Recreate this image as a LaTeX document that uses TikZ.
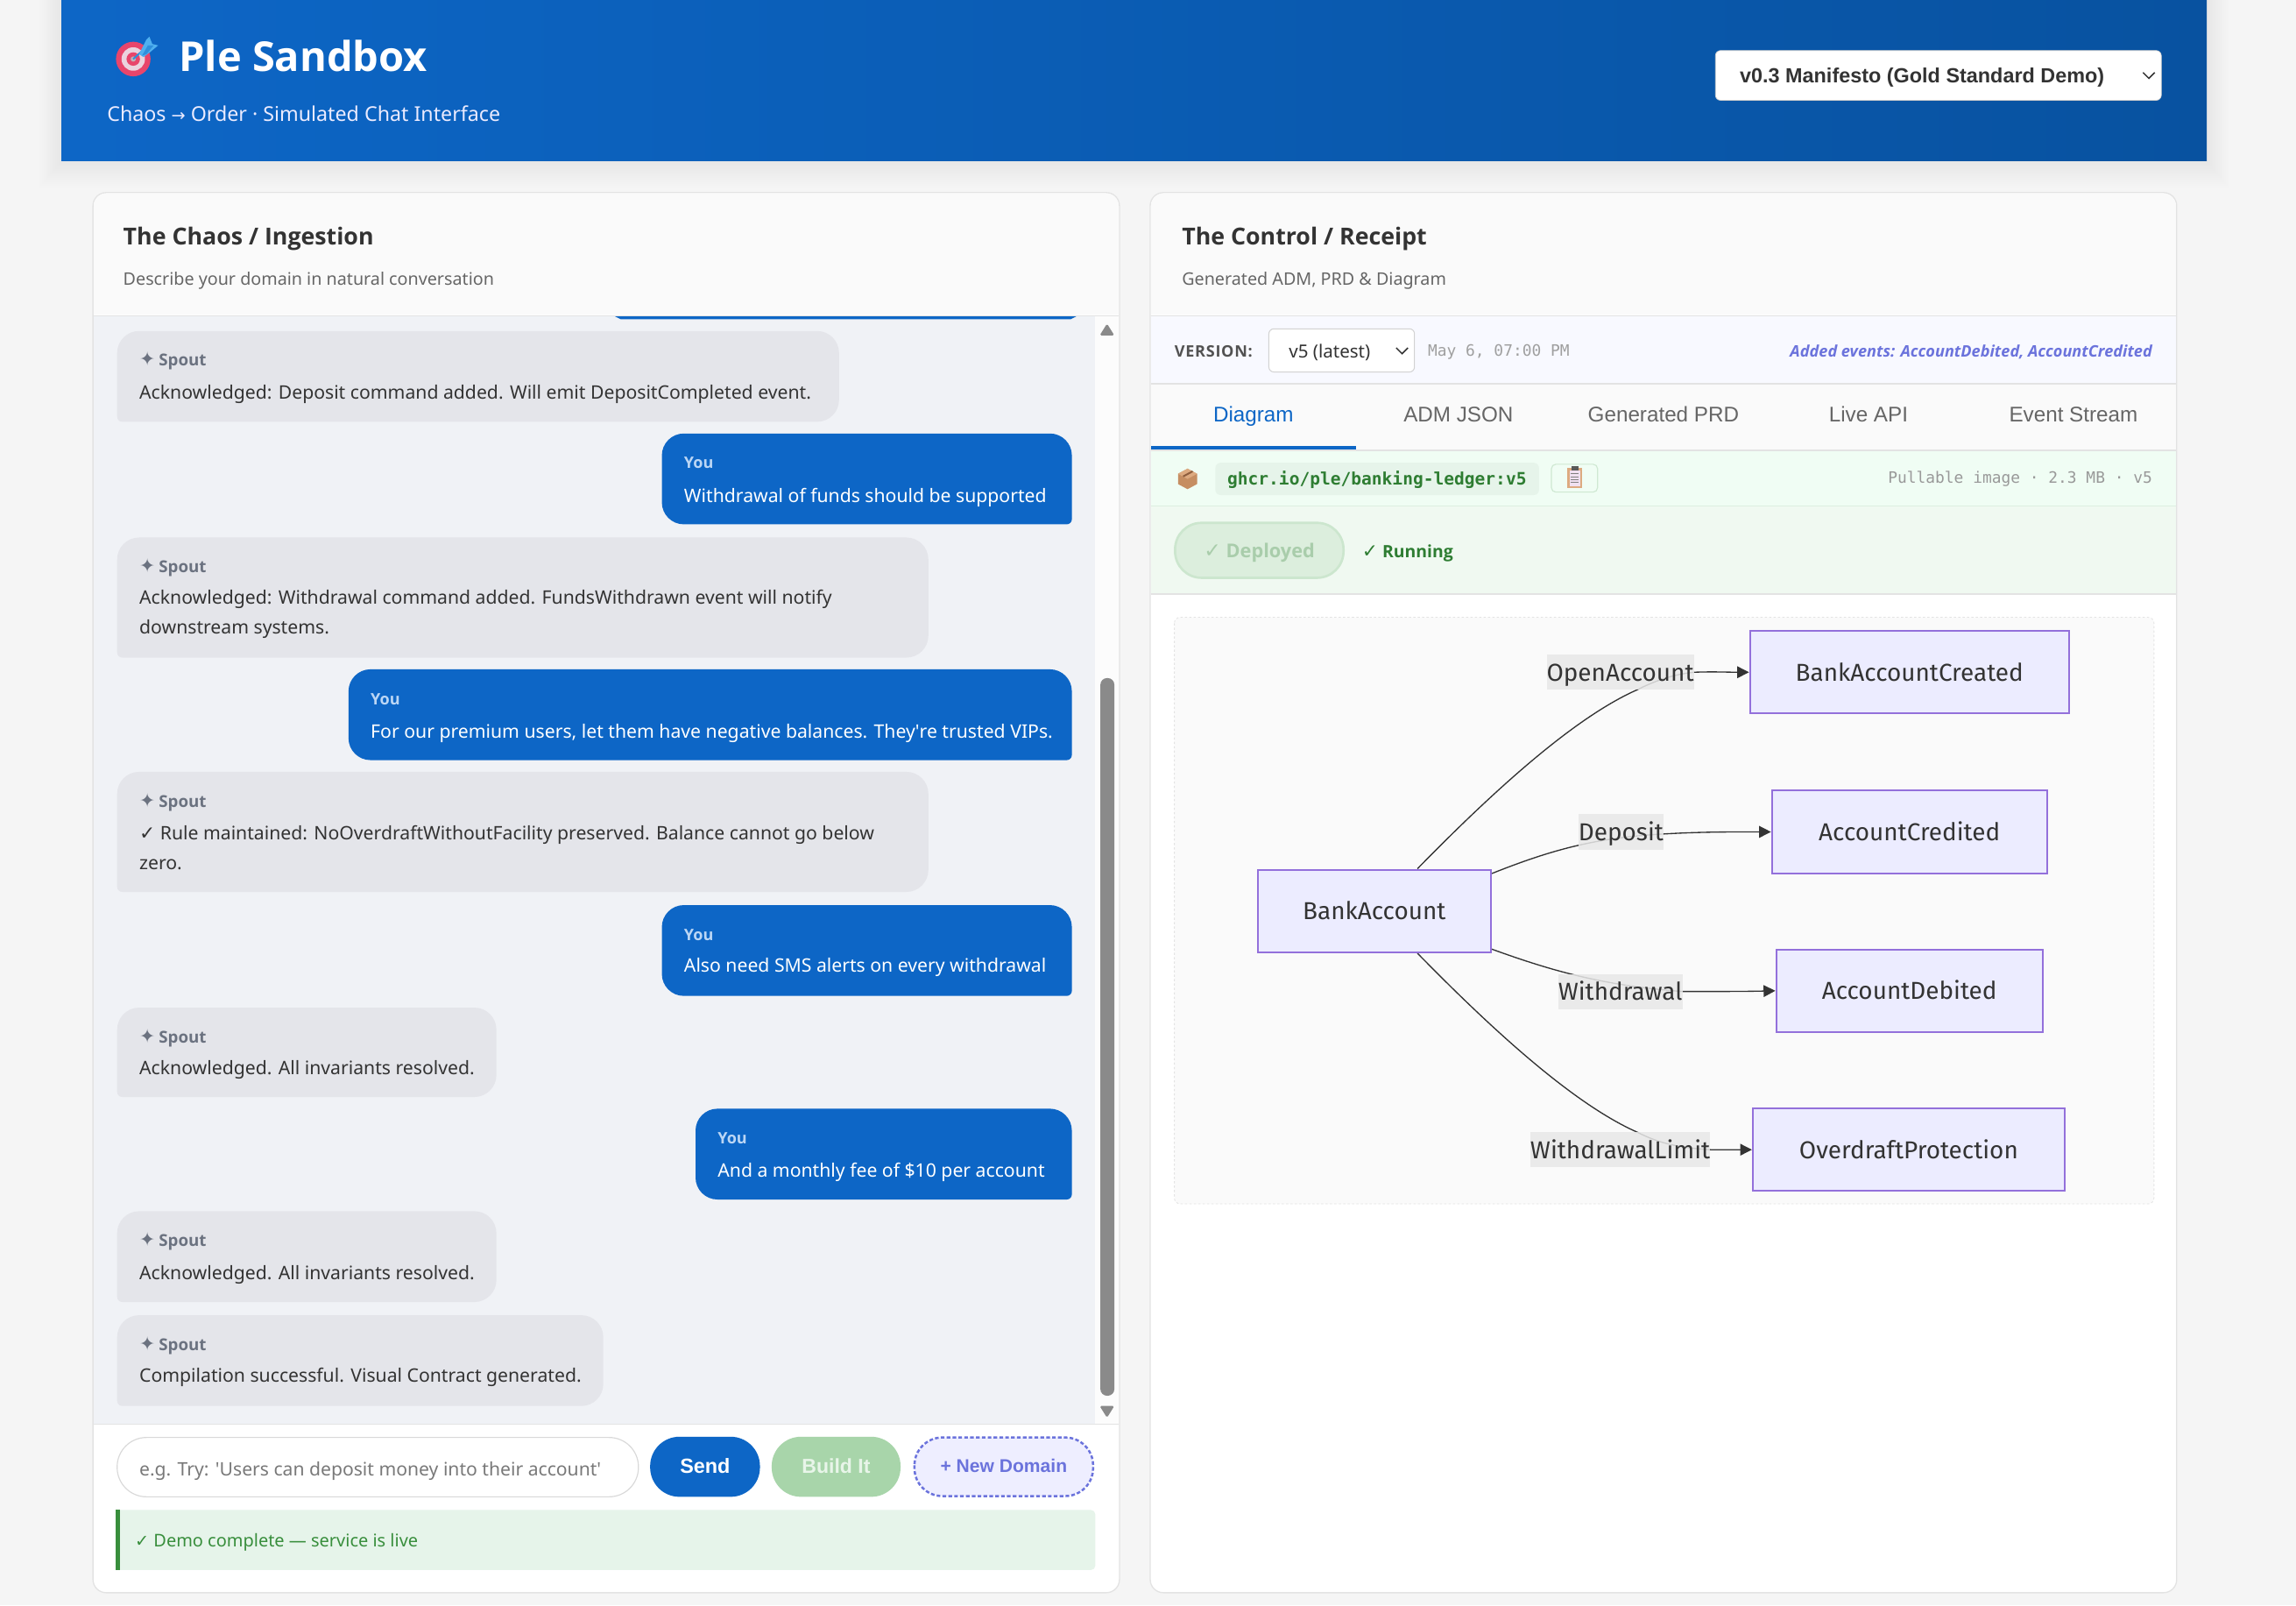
\documentclass[tikz,border=0pt]{standalone}
\usepackage{fontspec}
\usepackage{graphicx}
\usetikzlibrary{arrows.meta,calc,shapes.geometric}
\setmainfont{Noto Sans}
\newfontfamily\boldf{Open Sans}
\newfontfamily\boldsp{Open Sans}[LetterSpace=4]
\newfontfamily\arialf{Liberation Sans}
\newfontfamily\monof{DejaVu Sans Mono}
\newfontfamily\symf{DejaVu Sans}
\newfontfamily\diagf{Fira Sans}
\definecolor{pagebg}{HTML}{F5F5F5}
\definecolor{blueA}{HTML}{0D66C6}
\definecolor{blueB}{HTML}{0852A0}
\definecolor{hdfill}{HTML}{FAFAFA}
\definecolor{lineC}{HTML}{E3E3E3}
\definecolor{chatbg}{HTML}{F0F2F6}
\definecolor{spoutbg}{HTML}{E4E5EA}
\definecolor{inkC}{HTML}{333333}
\definecolor{spoutlab}{HTML}{6B7280}
\definecolor{youlab}{HTML}{BBD6F5}
\definecolor{greyT}{HTML}{666666}
\definecolor{scrollC}{HTML}{8A8A8A}
\definecolor{greenbtn}{HTML}{A8D5AA}
\definecolor{greenbtnT}{HTML}{E8F5E9}
\definecolor{violetT}{HTML}{6B73DC}
\definecolor{violetBg}{HTML}{EEEEFF}
\definecolor{statusbg}{HTML}{E6F4EA}
\definecolor{greenD}{HTML}{388E3C}
\definecolor{greenE}{HTML}{2E7D32}
\definecolor{nodeF}{HTML}{ECECFF}
\definecolor{nodeB}{HTML}{9370DB}
\definecolor{labelF}{HTML}{E8E8E8}
\definecolor{verbg}{HTML}{F8F9FF}
\definecolor{imgbg}{HTML}{F0FDF4}
\definecolor{deplbg}{HTML}{F0F9F1}
\definecolor{imgline}{HTML}{DCEFE0}
\definecolor{deplfill}{HTML}{DCEEDD}
\definecolor{deplline}{HTML}{CCE6CE}
\definecolor{deplT}{HTML}{A9CDAB}
\definecolor{clipline}{HTML}{CFE8D2}
\definecolor{pkgA}{HTML}{C68E62}
\definecolor{pkgB}{HTML}{DDAA80}
\definecolor{pkgC}{HTML}{8F5E3E}
\definecolor{tgtR}{HTML}{E8456B}
\definecolor{tgtW}{HTML}{EBD3DE}
\definecolor{dartB}{HTML}{4FB0F0}
\definecolor{dartC}{HTML}{2F8FDC}
\pgfdeclarelayer{edges}
\pgfdeclarelayer{labels}
\pgfsetlayers{main,edges,labels}
\tikzset{
  txtb/.style={inner sep=0pt,anchor=base west,text=inkC,font=\fontsize{12.68}{16}\selectfont},
  txtr/.style={inner sep=0pt,anchor=base east},
  txtc/.style={inner sep=0pt,anchor=base},
  slab/.style={text=spoutlab,font=\boldf\fontsize{11.2}{13}\selectfont\bfseries},
  ylab/.style={text=youlab,font=\boldf\fontsize{10.8}{13}\selectfont\bfseries},
  tabt/.style={text=greyT,font=\arialf\fontsize{14.5}{16}\selectfont},
  dnode/.style={draw=nodeB,fill=nodeF,line width=1.2pt,inner sep=0pt,text=inkC,text height=13pt,text depth=1pt,font=\diagf\fontsize{16.7}{20}\selectfont},
  dlabel/.style={fill=labelF,fill opacity=.85,text opacity=1,inner sep=0pt,text=inkC,text height=13pt,text depth=1pt,font=\diagf\fontsize{16.7}{20}\selectfont},
  conn/.style={draw=inkC,line width=.8pt,-{Triangle[length=8pt,width=8pt]}},
}
\newcommand\txt[5][]{\node[txtb,#1] (#2) at (#3,#4) {#5};}
\newcommand\spoutbub[4]{% name, x2, y1, y2
  \fill[spoutbg,rounded corners=15pt] (80,{#3+30}) -- (80,#3) -- (#2,#3) -- (#2,#4) -- (100,#4) [rounded corners=3.5pt] -- (80,#4) -- cycle;
  \txt[slab]{#1s}{95}{#3+24}{{\symf\fontsize{13}{13}\selectfont ✦}\hspace{-.5pt} Spout}}
\newcommand\youbub[4]{% name, x1, y1, y2
  \fill[blueA,rounded corners=15pt] (732,{#3+30}) -- (732,#3) -- (#2,#3) -- (#2,#4) -- (712,#4) [rounded corners=3.5pt] -- (732,#4) -- cycle;
  \txt[ylab]{#1s}{#2+15}{#3+24}{You}}
\begin{document}
\begin{tikzpicture}[x=1pt,y=-1pt]
\useasboundingbox (0,0) rectangle (1568,1096);
\fill[pagebg] (0,0) rectangle (1568,1096);
% header shadow
\foreach \i in {1,...,14}{\fill[black,opacity=.002] (42-1.1*\i,0) rectangle (1507+1.1*\i,110+1.3*\i);}
\shade[left color=blueA,right color=blueB] (42,0) rectangle (1507,110);
% target icon
\fill[tgtR] (91,40.3) circle (11.8);
\fill[tgtW] (91,40.3) circle (8);
\fill[tgtR] (91,40.3) circle (4.6);
\fill[tgtW!60!gray] (91,40.3) circle (1.8);
\draw[dartC,line width=1.2pt] (91,40.3) -- (99,33);
\fill[dartB] (95,37) -- (100,27) -- (102,25) -- (104,30) -- (108,31) -- (102,36) -- (98,39) -- cycle;
\fill[dartC] (97,38) -- (101,31) -- (105,31) -- (100,37) -- cycle;
\node[txtb,text=white,font=\boldf\fontsize{28.1}{32}\selectfont\bfseries] (title) at (122,49) {Ple Sandbox};
\node[txtb,text=white!92!blue,font=\fontsize{13.9}{18}\selectfont] (subt) at (73,83) {Chaos {\symf\fontsize{11.5}{14}\selectfont →} Order · Simulated Chat Interface};
\fill[white,draw=gray!40,line width=.4pt,rounded corners=3.5pt] (1171.5,34.5) rectangle (1476,68.5);
\node[txtb,font=\arialf\fontsize{14}{17}\selectfont\bfseries] (demo) at (1188,56.5) {v0.3 Manifesto (Gold Standard Demo)};
\draw[inkC,line width=.9pt] (1463.5,49.5) -- (1467.5,53.5) -- (1471.5,49.5);
% left panel
\fill[white,draw=lineC,line width=.8pt,rounded corners=9pt] (63.5,131.5) rectangle (764.5,1087.5);
\fill[hdfill,rounded corners=9pt] (64,215) [sharp corners] -- (64,180) [rounded corners=9pt] -- (64,132) -- (764,132) -- (764,180) [sharp corners] -- (764,215) -- cycle;
\txt[font=\boldf\fontsize{16}{20}\selectfont\bfseries]{lefttitle}{84}{167.5}{The Chaos / Ingestion}
\txt[text=greyT,font=\fontsize{11.8}{15}\selectfont]{leftsub}{84}{194.5}{Describe your domain in natural conversation}
\fill[chatbg] (64,216) rectangle (748,972);
\fill[hdfill!50!white] (748,216) rectangle (764,972);
\fill[blueA] (420,216) -- (735,216) -- (731,218) -- (424,218) -- cycle;
\draw[lineC,line width=.8pt] (64,215.5) -- (764,215.5);
\draw[lineC,line width=.8pt] (64,972.5) -- (764,972.5);
\fill[scrollC,rounded corners=1pt] (751,229) -- (761,229) -- (756,221) -- cycle;
\fill[scrollC,rounded corners=1pt] (751,960) -- (761,960) -- (756,968) -- cycle;
\fill[scrollC,rounded corners=4.5pt] (751.5,463) rectangle (761,953);
% chat
\spoutbub{sa}{573}{226}{288}
\txt{sat}{95}{272.5}{Acknowledged: Deposit command added. Will emit DepositCompleted event.}
\youbub{ya}{452}{296}{358}
\txt[text=white]{yat}{467}{343}{Withdrawal of funds should be supported}
\spoutbub{sb}{634}{367}{449}
\txt{sbt}{95}{412.5}{Acknowledged: Withdrawal command added. FundsWithdrawn event will notify}
\txt{sbu}{95}{433}{downstream systems.}
\youbub{yb}{238}{457}{519}
\txt[text=white]{ybt}{253}{504}{For our premium users, let them have negative balances. They\textquotesingle re trusted VIPs.}
\spoutbub{sc}{634}{527}{609}
\txt{sct}{95}{573.5}{{\symf\fontsize{13}{14}\selectfont ✓} Rule maintained: NoOverdraftWithoutFacility preserved. Balance cannot go below}
\txt{scu}{95}{594}{zero.}
\youbub{yc}{452}{618}{680}
\txt[text=white]{yct}{467}{664}{Also need SMS alerts on every withdrawal}
\spoutbub{sd}{339}{688}{749}
\txt{sdt}{95}{734}{Acknowledged. All invariants resolved.}
\youbub{yd}{475}{757}{819}
\txt[text=white]{ydt}{490}{804}{And a monthly fee of \$10 per account}
\spoutbub{se}{339}{827}{889}
\txt{set}{95}{874}{Acknowledged. All invariants resolved.}
\spoutbub{sf}{412}{898}{960}
\txt{sft}{95}{944}{Compilation successful. Visual Contract generated.}
% input row
\fill[white,draw=gray!30,line width=.7pt,rounded corners=20pt] (80,981.5) rectangle (436,1022);
\txt[text=gray!95!black,font=\fontsize{12.65}{16}\selectfont]{inp}{95}{1007.5}{e.g. Try: \textquotesingle Users can deposit money into their account\textquotesingle}
\fill[blueA,rounded corners=20pt] (444,981) rectangle (519,1022);
\node[txtc,text=white,font=\arialf\fontsize{14}{16}\selectfont\bfseries] (send) at (481.5,1006) {Send};
\fill[greenbtn,rounded corners=20pt] (527,981) rectangle (615,1022);
\node[txtc,text=greenbtnT,font=\arialf\fontsize{13.8}{16}\selectfont\bfseries] (build) at (571,1006) {Build It};
\draw[violetT,fill=violetBg,line width=1.5pt,dash pattern=on 2.5pt off 1.5pt,rounded corners=19pt] (624.5,981.5) rectangle (746.5,1021.5);
\node[txtc,text=violetT,font=\arialf\fontsize{12.6}{15}\selectfont\bfseries] (newd) at (685.5,1005.5) {+ New Domain};
\fill[statusbg,rounded corners=3pt] (79,1031) rectangle (748,1072);
\fill[greenD] (79,1031) rectangle (82,1072);
\txt[text=greenD,font=\fontsize{11.95}{15}\selectfont]{stat}{92}{1056}{{\symf\fontsize{11.5}{14}\selectfont ✓} Demo complete — service is live}
% right panel
\fill[white,draw=lineC,line width=.8pt,rounded corners=9pt] (785.5,131.5) rectangle (1486.5,1087.5);
\fill[hdfill,rounded corners=9pt] (786,215) [sharp corners] -- (786,180) [rounded corners=9pt] -- (786,132) -- (1486,132) -- (1486,180) [sharp corners] -- (1486,215) -- cycle;
\txt[font=\boldf\fontsize{16}{20}\selectfont\bfseries]{righttitle}{807}{167.5}{The Control / Receipt}
\txt[text=greyT,font=\fontsize{11.8}{15}\selectfont]{rightsub}{807}{194.5}{Generated ADM, PRD \& Diagram}
\fill[verbg] (786,216) rectangle (1486,262);
\draw[lineC,line width=.8pt] (786,215.5) -- (1486,215.5);
\draw[lineC,line width=.8pt] (786,262) -- (1486,262);
\txt[text=inkC!85!white,font=\boldsp\fontsize{10.8}{13}\selectfont\bfseries]{ver}{802}{243.5}{VERSION:}
\fill[white,draw=gray!35,line width=.6pt,rounded corners=3.5pt] (866.5,224.5) rectangle (966,254);
\txt[font=\fontsize{12.3}{16}\selectfont]{versel}{880}{244.5}{v5 (latest)}
\draw[inkC,line width=.9pt] (953.5,237.5) -- (957.5,241.5) -- (961.5,237.5);
\txt[text=gray!75!white,font=\monof\fontsize{10.7}{13}\selectfont]{date}{975}{243}{May 6, 07:00 PM}
\node[txtr,text=violetT,font=\boldf\fontsize{10.85}{13}\selectfont\itshape\bfseries] (added) at (1470,243.5) {Added events: AccountDebited, AccountCredited};
% tabs
\fill[hdfill] (786,262.5) rectangle (1486,307);
\fill[blueA] (786,304.5) rectangle (926,307);
\draw[lineC,line width=.8pt] (786,307.5) -- (1486,307.5);
\node[txtc,tabt,text=blueA] (tabA) at (856,288) {Diagram};
\node[txtc,tabt] (tabB) at (996,288) {ADM JSON};
\node[txtc,tabt] (tabC) at (1136,288) {Generated PRD};
\node[txtc,tabt] (tabD) at (1276,288) {Live API};
\node[txtc,tabt] (tabE) at (1416,288) {Event Stream};
% image row
\fill[imgbg] (786,308) rectangle (1486,345);
\draw[imgline,line width=.8pt] (786,345.5) -- (1486,345.5);
\fill[pkgA] (811,320) -- (817.5,323.5) -- (817.5,330.5) -- (811,334) -- (804.5,330.5) -- (804.5,323.5) -- cycle;
\fill[pkgB] (811,320) -- (817.5,323.5) -- (811,327) -- (804.5,323.5) -- cycle;
\draw[pkgC,line width=1.2pt] (814.5,321.8) -- (808,325.3);
\fill[statusbg,rounded corners=3.5pt] (830,316) rectangle (1051,338);
\txt[text=greenE,font=\monof\fontsize{11.7}{14}\selectfont\bfseries]{chip}{838}{331}{ghcr.io/ple/banking-ledger:v5}
\draw[clipline,fill=imgbg,line width=.7pt,rounded corners=3pt] (1059.5,317) rectangle (1091,336);
\fill[pkgB] (1070.5,319.5) rectangle (1080.5,333);
\fill[violet!12!white] (1071.8,321) rectangle (1079.2,332);
\fill[gray!70!black] (1073,318.5) rectangle (1078,321);
\foreach \q in {323.5,325.5,327.5,329.5}{\draw[gray,line width=.4pt] (1072.8,\q) -- (1078.2,\q);}
\node[txtr,text=gray!80!white,font=\monof\fontsize{10.7}{13}\selectfont] (pull) at (1470,330) {Pullable image · 2.3 MB · v5};
% deploy row
\fill[deplbg] (786,346) rectangle (1486,405);
\draw[lineC,line width=.8pt] (786,405.5) -- (1486,405.5);
\draw[deplline,fill=deplfill,line width=1.6pt,rounded corners=18pt] (802.5,357) rectangle (917.5,394.5);
\txt[text=deplT,font=\boldf\fontsize{13}{16}\selectfont\bfseries]{depl}{822}{381}{{\symf\fontsize{14}{16}\selectfont ✓} Deployed}
\txt[text=greenE,font=\boldf\fontsize{11.6}{15}\selectfont\bfseries]{runn}{930}{380.5}{{\symf\fontsize{13}{15}\selectfont ✓} Running}
% diagram
\draw[lineC,fill=hdfill,line width=.5pt,dash pattern=on 1.5pt off 1.5pt,rounded corners=4pt] (802,421.5) rectangle (1471,822);
\begin{pgfonlayer}{labels}
\node[dnode,minimum width=218pt,minimum height=56.5pt] (bac) at (1304,459) {BankAccountCreated};
\node[dnode,minimum width=188pt,minimum height=56.5pt] (acr) at (1304,568) {AccountCredited};
\node[dnode,minimum width=182pt,minimum height=56.5pt] (adb) at (1304,676.5) {AccountDebited};
\node[dnode,minimum width=213pt,minimum height=56.5pt] (opr) at (1303.5,785) {OverdraftProtection};
\node[dnode,minimum width=159pt,minimum height=56.5pt] (ba) at (938.5,622) {BankAccount};
\node[dlabel,minimum width=99pt,minimum height=24pt] (lopen) at (1106.5,459) {OpenAccount};
\node[dlabel,minimum width=56pt,minimum height=24pt] (ldep) at (1107,568) {Deposit};
\node[dlabel,minimum width=85pt,minimum height=24pt] (lwit) at (1106.5,677) {Withdrawal};
\node[dlabel,minimum width=123pt,minimum height=24pt] (llim) at (1106.5,785) {WithdrawalLimit};
\end{pgfonlayer}
\begin{pgfonlayer}{edges}
\draw[conn] ($(ba.north)+(29.5,0)$) .. controls (1020,540) and (1075,490) .. (1118,471) .. controls (1130,465) and (1142,460.5) .. (lopen.east) .. controls (1170,458.5) and (1180,459) .. (bac.west);
\draw[conn] (ba.north east |- 0,596.5) .. controls (1060,580) and (1090,572) .. (1135,569.5) .. controls (1160,568) and (1180,568) .. (acr.west);
\draw[conn] (ba.south east |- 0,648) .. controls (1060,663) and (1095,673) .. (lwit.east) .. controls (1170,677) and (1190,677) .. (adb.west);
\draw[conn] ($(ba.south)+(29.5,0)$) .. controls (1020,704) and (1075,754) .. (1118,773) .. controls (1130,779) and (1142,783.5) .. (llim.east) -- (opr.west);
\end{pgfonlayer}
\end{tikzpicture}
\end{document}
